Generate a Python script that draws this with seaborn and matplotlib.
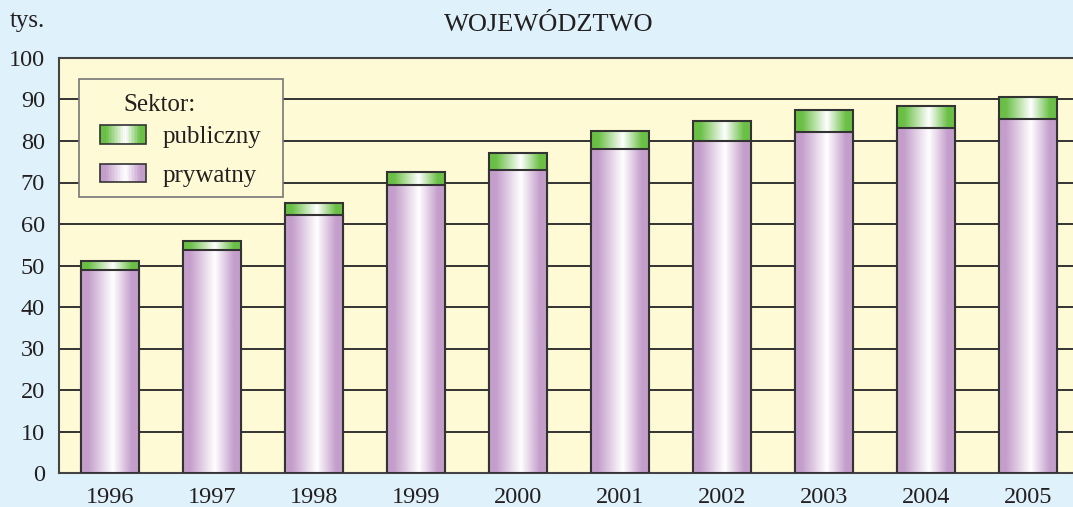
import matplotlib
matplotlib.use("Agg")
import matplotlib.pyplot as plt
import numpy as np
import pandas as pd
import seaborn as sns
from matplotlib.colors import LinearSegmentedColormap
from matplotlib.legend_handler import HandlerPatch
from matplotlib.patches import Patch, Rectangle


years = ["1996", "1997", "1998", "1999", "2000", "2001", "2002", "2003", "2004", "2005"]
total = [51.2, 56.0, 65.1, 72.6, 77.1, 82.3, 84.9, 87.4, 88.4, 90.6]
prywatny = [49.0, 53.8, 62.2, 69.4, 73.1, 78.0, 80.1, 82.2, 83.1, 85.2]
labels = ["publiczny", "prywatny"]

FIG_BG = "#dff2fb"
AX_BG = "#fffad6"
PURPLE = "#c49ecb"
GREEN = "#6abf45"
EDGE = "#333333"
TEXT = "#231f20"
FS = 18

W, H = 1073, 507
AX_L, AX_R, AX_T, AX_B = 59, 1079, 58, 473


def ax_xy(px, py):
    # pixel position -> axes fraction
    return (px - AX_L) / (AX_R - AX_L), (AX_B - py) / (AX_B - AX_T)


def gradient_cmap(base):
    stops = [(0.0, base), (0.12, base), (0.55, "#ffffff"), (0.88, base), (1.0, base)]
    return LinearSegmentedColormap.from_list("g", stops)


class GradientHandler(HandlerPatch):
    def __init__(self, base, steps=30):
        super().__init__()
        self.cmap = gradient_cmap(base)
        self.steps = steps

    def create_artists(self, legend, orig_handle, xdescent, ydescent, width, height, fontsize, trans):
        arts = []
        w = width / self.steps
        for i in range(self.steps):
            c = self.cmap((i + 0.5) / self.steps)
            arts.append(Rectangle((-xdescent + i * w, -ydescent), w * 1.05, height,
                                  facecolor=c, edgecolor="none", transform=trans))
        arts.append(Rectangle((-xdescent, -ydescent), width, height, facecolor="none",
                              edgecolor=EDGE, lw=1.2, transform=trans))
        return arts


df = pd.DataFrame({"rok": years, "total": total, "prywatny": prywatny})

sns.set_theme(style="white")
plt.rcParams["font.family"] = ["Liberation Serif", "DejaVu Serif"]

fig = plt.figure(figsize=(W / 100, H / 100), dpi=100, facecolor=FIG_BG)
ax = fig.add_axes([AX_L / W, 1 - AX_B / H, (AX_R - AX_L) / W, (AX_B - AX_T) / H])
ax.set_facecolor(AX_BG)

sns.barplot(data=df, x="rok", y="total", color=GREEN, width=0.56, ax=ax, saturation=1)
sns.barplot(data=df, x="rok", y="prywatny", color=PURPLE, width=0.56, ax=ax, saturation=1)

grad = np.linspace(0, 1, 256).reshape(1, -1)
n = len(years)
for i, p in enumerate(ax.patches):
    base = GREEN if i < n else PURPLE
    z = 2 + (0 if i < n else 1)
    x0, y0 = p.get_x(), p.get_y()
    w, h = p.get_width(), p.get_height()
    ax.imshow(grad, cmap=gradient_cmap(base), extent=(x0, x0 + w, y0, y0 + h),
              aspect="auto", zorder=z, interpolation="bicubic")
    p.set_facecolor("none")
    p.set_edgecolor(EDGE)
    p.set_linewidth(1.5)
    p.set_zorder(z + 0.5)

ax.set_xlim(-0.5, n - 0.5)
ax.set_ylim(0, 100)
ax.set_yticks(range(0, 101, 10))
ax.yaxis.grid(True, color=EDGE, lw=1.4)
ax.set_axisbelow(True)
for s in ax.spines.values():
    s.set_color("#444444")
    s.set_linewidth(1.5)
ax.tick_params(axis="both", length=0, labelsize=17.5, colors=TEXT)
ax.tick_params(axis="y", pad=10)
ax.tick_params(axis="x", pad=10)
ax.set_xlabel("")
ax.set_ylabel("")

# legend frame drawn by hand so the padding matches the original
fx0, fy1 = ax_xy(79, 79)
fx1, fy0 = ax_xy(283, 196.5)
ax.add_patch(Rectangle((fx0, fy0), fx1 - fx0, fy1 - fy0, transform=ax.transAxes,
                       facecolor=AX_BG, edgecolor="#777777", lw=1.2, zorder=9))
tx, ty = ax_xy(123, 110.7)
ax.text(tx, ty, "Sektor:", transform=ax.transAxes, fontsize=FS, color=TEXT,
        va="baseline", ha="left", zorder=11)

handles = [Patch(label=labels[0]), Patch(label=labels[1])]
lx, ly = ax_xy(100, 156)
leg = ax.legend(handles=handles, loc="center left", bbox_to_anchor=(lx, ly),
                fontsize=FS, frameon=False, handlelength=1.84, handleheight=0.76,
                labelspacing=0.62, handletextpad=0.67, borderpad=0, borderaxespad=0,
                handler_map={handles[0]: GradientHandler(GREEN),
                             handles[1]: GradientHandler(PURPLE)})
leg.set_zorder(11)
for t in leg.get_texts():
    t.set_color(TEXT)

fig.text(10 / W, 1 - 21 / H, "tys.", fontsize=FS, color=TEXT, va="center", ha="left")
fig.text(549 / W, 1 - 25 / H, "WOJEWÓDZTWO", fontsize=19, color=TEXT,
         va="center", ha="center")

fig.savefig("out.png", dpi=100, facecolor=FIG_BG)
